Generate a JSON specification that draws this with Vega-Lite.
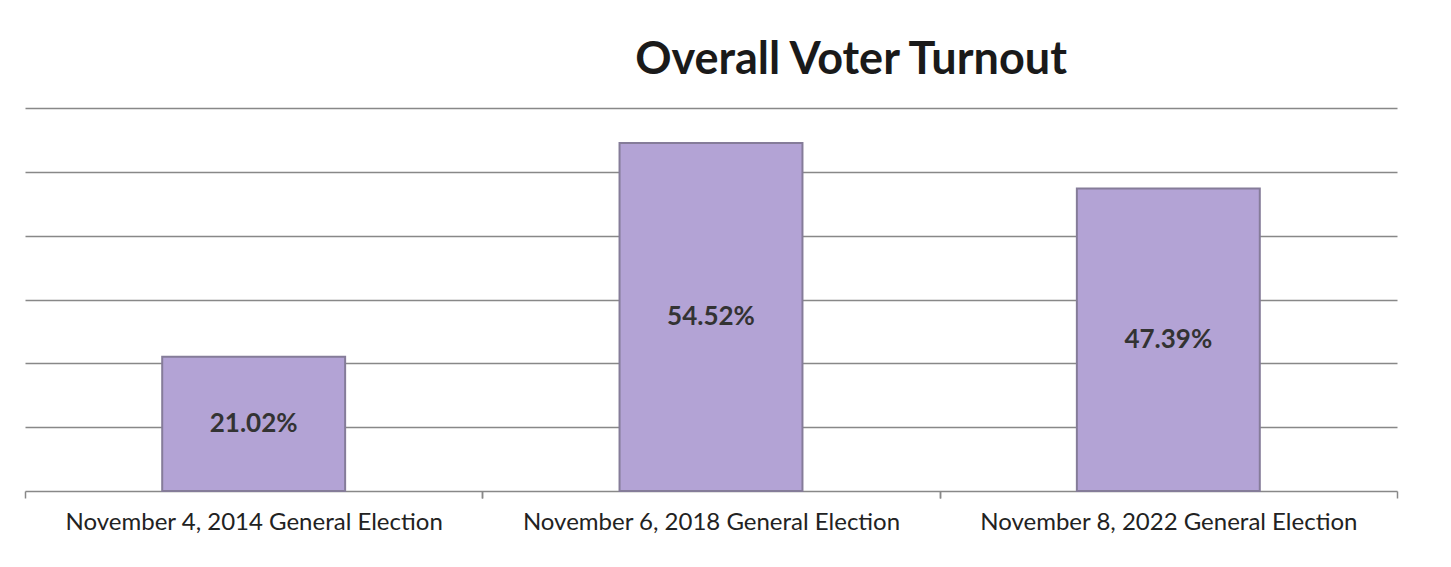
{
  "$schema": "https://vega.github.io/schema/vega-lite/v6.json",
  "autosize": "none",
  "width": 1372,
  "height": 383,
  "padding": {"left": 25, "top": 108, "right": 54, "bottom": 76},
  "background": "white",
  "config": {"view": {"stroke": null}, "font": "Lato"},
  "title": {
    "text": "Overall Voter Turnout",
    "font": "Lato",
    "fontSize": 45,
    "fontWeight": "bold",
    "color": "#1a1a1a",
    "anchor": "middle",
    "dx": 140,
    "offset": 25
  },
  "data": {
    "values": [
      {"election": "November 4, 2014 General Election", "turnout": 21.02, "label": "21.02%"},
      {"election": "November 6, 2018 General Election", "turnout": 54.52, "label": "54.52%"},
      {"election": "November 8, 2022 General Election", "turnout": 47.39, "label": "47.39%"}
    ]
  },
  "resolve": {"axis": {"x": "independent"}},
  "layer": [
    {
      "mark": {"type": "bar", "color": "#b3a3d5", "stroke": "#857c99", "strokeWidth": 2},
      "encoding": {
        "x": {
          "field": "election",
          "type": "nominal",
          "sort": null,
          "scale": {"paddingInner": 0.6, "paddingOuter": 0.3},
          "axis": {
            "orient": "bottom",
            "title": null,
            "labelAngle": 0,
            "labelFont": "Lato",
            "labelFontSize": 24,
            "labelColor": "#222222",
            "labelPadding": 12,
            "labelLimit": 0,
            "bandPosition": 0,
            "tickOffset": -137.2,
            "labelOffset": 137.2,
            "tickColor": "#888888",
            "tickSize": 7,
            "tickWidth": 1.5,
            "domainColor": "#888888",
            "domainWidth": 1.5,
            "grid": false
          }
        },
        "y": {
          "field": "turnout",
          "type": "quantitative",
          "scale": {"domain": [0, 60], "nice": false},
          "axis": {
            "title": null,
            "labels": false,
            "ticks": false,
            "domain": false,
            "values": [10, 20, 30, 40, 50, 60],
            "grid": true,
            "gridColor": "#888888",
            "gridWidth": 1.5
          }
        }
      }
    },
    {
      "transform": [{"calculate": "datum.turnout / 2", "as": "mid"}],
      "mark": {"type": "text", "font": "Lato", "fontSize": 26, "fontWeight": "bold", "color": "#333333", "baseline": "middle"},
      "encoding": {
        "x": {
          "field": "election",
          "type": "nominal",
          "sort": null,
          "axis": {
            "orient": "bottom",
            "title": null,
            "labels": false,
            "domain": false,
            "grid": false,
            "bandPosition": 1,
            "tickOffset": 137.2,
            "tickColor": "#888888",
            "tickSize": 7,
            "tickWidth": 1.5
          }
        },
        "y": {"field": "mid", "type": "quantitative"},
        "text": {"field": "label"}
      }
    }
  ]
}
